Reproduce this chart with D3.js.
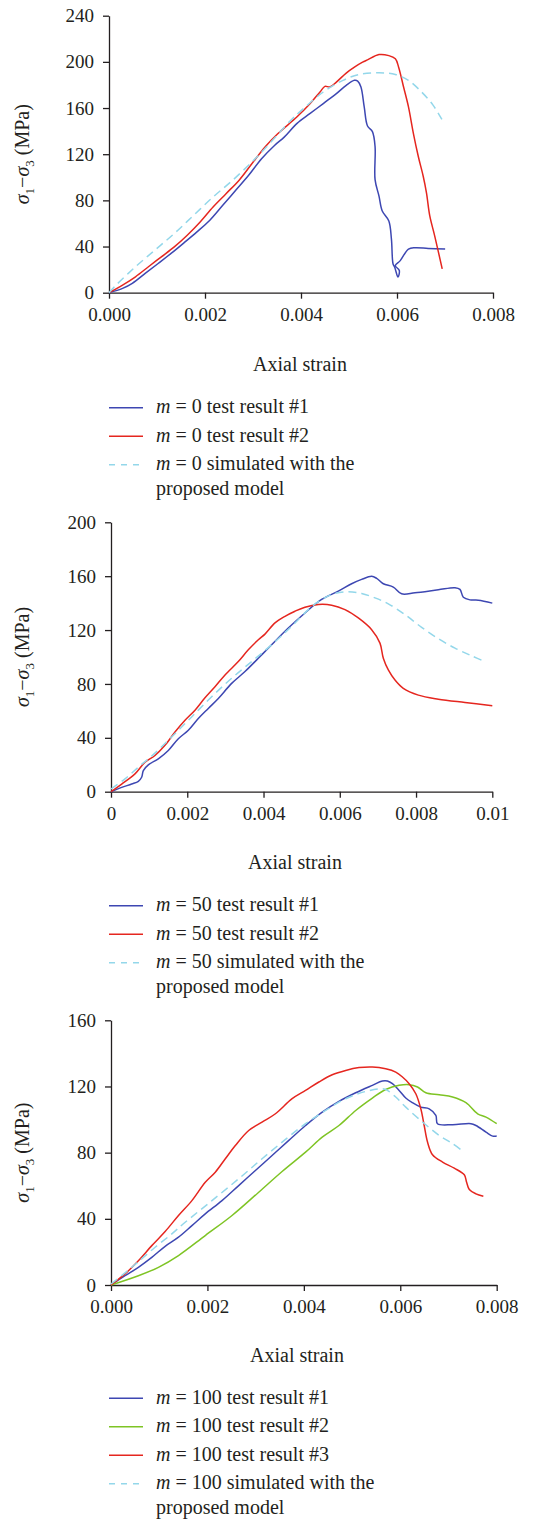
<!DOCTYPE html>
<html>
<head>
<meta charset="utf-8">
<script src="https://cdn.jsdelivr.net/npm/d3@7"></script>
<style>
body{margin:0;background:#fff}
text{font-family:"Liberation Serif","Times New Roman",serif;fill:#231f20}
</style>
</head>
<body>
<svg id="main_svg" width="534" height="1520"></svg>
<script>
// ---- m = 0 ----
let m0_test1 = [[0,0],[0.000283,3.7],[0.000485,8.1],[0.000754,16.7],[0.001024,25.3],[0.001293,34],[0.001562,43.2],
    [0.001832,52.7],[0.002101,62.8],[0.00237,75.7],[0.00264,88.7],[0.002909,101.7],[0.003178,116.1],[0.003448,127.6],
    [0.00365,134.8],[0.003918,146.7],[0.004191,155.3],[0.004464,163.9],[0.004737,172.5],[0.004942,179.7],[0.005113,184],
    [0.005181,183.4],[0.005249,178.2],[0.005317,161],[0.005386,144.4],[0.005488,139.5],[0.005543,126.6],[0.005543,98],
    [0.005625,83.7],[0.005693,70.8],[0.00583,62.2],[0.005884,46.4],[0.005918,24.9],[0.005952,22.1],[0.00602,13.5],
    [0.006048,19.2],[0.005966,23.5],[0.006068,27.8],[0.006239,37.8],[0.006375,39],[0.00665,38.4],[0.007003,37.8]]
let m0_test2 = [[0,0],[0.000283,6.6],[0.000552,13.8],[0.000822,22.5],[0.001091,31.1],[0.00136,39.7],[0.00163,49.8],
    [0.001899,61.3],[0.002168,74.3],[0.002438,85.8],[0.002707,97.3],[0.002976,111.7],[0.003246,126.1],[0.003515,137.7],
    [0.003918,152.4],[0.004191,163.9],[0.004396,173.9],[0.004498,178.8],[0.0046,178.2],[0.004737,182.5],[0.004942,190.3],
    [0.005113,195.4],[0.005283,199.7],[0.005386,201.7],[0.005625,206.3],[0.00583,205.4],[0.005966,202.6],[0.006034,195.4],
    [0.006137,178.2],[0.006239,161],[0.006341,138.1],[0.006444,118],[0.006546,100.9],[0.006614,86.5],[0.006683,66.5],
    [0.006785,49.3],[0.006942,20.6]]
let m0_sim = [[0,0],[0.000148,6.6],[0.000552,22.5],[0.000956,36.9],[0.00136,51.3],[0.001764,67.1],[0.002168,82.9],
    [0.002572,97.3],[0.002976,113.2],[0.003246,124.7],[0.003784,149.2],[0.004055,159.6],[0.004464,173.9],[0.004874,184],
    [0.005215,189.1],[0.005625,190.5],[0.005966,189.1],[0.006239,184],[0.006512,173.9],[0.006751,162.5],[0.006935,150.1]]

// ---- m = 50 ----
let m50_test1 = [[0,0],[0.00028,3.2],[0.000542,5.7],[0.000717,7.7],[0.000804,10.7],[0.000848,15.7],[0.000979,19.9],
    [0.001241,24.4],[0.001503,30.6],[0.001766,39.3],[0.002028,45.6],[0.00229,54.3],[0.002552,61.8],[0.002815,69.2],
    [0.003164,80.4],[0.003514,89.2],[0.003864,99.1],[0.004213,109.1],[0.00465,121.5],[0.005087,132.7],[0.005524,142.7],
    [0.005962,148.9],[0.006311,154.4],[0.006573,157.6],[0.006836,159.9],[0.006967,158.4],[0.007142,154.4],[0.007404,151.9],
    [0.007622,146.9],[0.007972,147.7],[0.008584,149.9],[0.009021,151.4],[0.009152,150.2],[0.00924,144.4],[0.009414,142.4],
    [0.009633,142.2],[0.01,140]]
let m50_test2 = [[0,0],[0.00028,5.7],[0.000629,13.2],[0.000892,21.9],[0.001154,26.9],[0.001416,34.4],[0.001678,44.3],
    [0.001941,53],[0.002203,60.5],[0.002465,69.7],[0.002727,77.9],[0.00299,86.7],[0.003339,96.6],[0.003601,105.3],
    [0.003864,112.8],[0.004038,117],[0.004301,125.3],[0.004563,130.2],[0.004825,134],[0.005087,137],[0.005437,139],
    [0.005787,138.5],[0.006136,135.2],[0.006486,129],[0.006836,120.3],[0.007054,110.3],[0.007142,99.1],[0.007273,90.4],
    [0.007448,82.9],[0.007666,76.7],[0.00806,71.7],[0.008584,68.7],[0.009283,66.2],[0.01,63.8]]
let m50_sim = [[0,2],[0.000367,9.5],[0.000717,18.2],[0.001066,26.4],[0.001591,40.6],[0.002115,55.5],[0.00264,70.5],
    [0.003164,84.2],[0.003689,96.6],[0.004213,109.1],[0.004738,122.8],[0.005175,135.2],[0.005524,142.7],[0.005874,147.2],
    [0.006224,148.4],[0.006573,147.2],[0.006923,143.9],[0.007273,139.5],[0.00771,131.5],[0.008147,122],[0.008584,113.6],
    [0.009021,106.6],[0.009458,100.9],[0.009808,96.6]]

// ---- m = 100 ----
let m100_test1 = [[0,0],[0.000291,5.6],[0.000568,10.7],[0.000846,16.7],[0.001123,23.4],[0.0014,28.9],[0.001678,35.9],
    [0.001955,43],[0.002302,51],[0.002648,60.1],[0.002995,69.2],[0.003341,78.3],[0.003688,87.4],[0.004035,96.4],
    [0.004381,104.5],[0.004728,111],[0.005075,116.2],[0.005421,120.7],[0.005629,123.3],[0.005733,123.3],[0.005837,121.7],
    [0.005976,117.6],[0.006114,113],[0.006253,110.2],[0.006426,107.5],[0.0066,106.5],[0.006738,102.5],[0.006773,97.5],
    [0.007085,96.9],[0.007466,97.5],[0.00757,96.4],[0.007778,92.4],[0.007917,90],[0.008,90]]
let m100_test2 = [[0,0],[0.000568,5.6],[0.000984,10.7],[0.0014,17.8],[0.001955,29.9],[0.00251,42],[0.003064,56.1],
    [0.003549,68.6],[0.004035,80.3],[0.004381,89.4],[0.004728,96.4],[0.005075,105.5],[0.005421,113],[0.005698,118.2],
    [0.005976,120.7],[0.006184,121.1],[0.006357,119.7],[0.00653,116.2],[0.006808,115],[0.007085,113.6],[0.007362,110.2],
    [0.007605,103.5],[0.007778,101.5],[0.008,97.5]]
let m100_test3 = [[0,0],[0.000291,6.7],[0.000568,14.7],[0.000846,23.8],[0.001123,32.3],[0.0014,42],[0.001678,51],
    [0.001955,62.1],[0.002163,68.2],[0.002371,76.3],[0.002579,84.3],[0.002856,93.4],[0.003133,98.5],[0.003411,103.5],
    [0.003757,112.6],[0.004035,117.6],[0.004312,122.7],[0.004589,127.1],[0.004867,129.7],[0.005144,131.4],[0.005421,131.8],
    [0.005698,130.7],[0.005906,128.7],[0.006045,125.7],[0.006184,121.7],[0.006322,115.6],[0.006426,106.5],[0.006496,96.4],
    [0.006565,86.4],[0.006669,78.7],[0.006877,74.3],[0.00712,70.6],[0.007328,66.6],[0.007376,62.1],[0.007432,57.7],
    [0.00757,55.1],[0.007723,53.7]]
let m100_sim = [[0,0.6],[0.000291,7.3],[0.000568,14.1],[0.000915,22.8],[0.001262,30.9],[0.001539,37.9],[0.002094,51],
    [0.002648,64.2],[0.003133,76.3],[0.003619,88],[0.004035,97.5],[0.004451,105.5],[0.004867,112.6],[0.005283,117],
    [0.005629,118.6],[0.005733,117.6],[0.005906,113.6],[0.006114,107.5],[0.006461,98.5],[0.006808,90.4],[0.007085,85.4],
    [0.007328,80.3]]

// ticks
let x_ticks_8 = [0,0.002,0.004,0.006,0.008]
let x_labels_8 = ["0.000","0.002","0.004","0.006","0.008"]
let x_ticks_10 = [0,0.002,0.004,0.006,0.008,0.01]
let x_labels_10 = ["0","0.002","0.004","0.006","0.008","0.01"]
let y_ticks_240 = [0,40,80,120,160,200,240]
let y_ticks_200 = [0,40,80,120,160,200]
let y_ticks_160 = [0,40,80,120,160]

let blue = "#3d47b2"
let red = "#e5261f"
let green = "#7ec424"
let cyan = "#93d7ea"

function draw_panel(p){
    let svg = d3.select("#main_svg")
    let x = d3.scaleLinear().domain(p.xdom).range([p.left, p.right])
    let y = d3.scaleLinear().domain(p.ydom).range([p.bottom, p.top])
    let g = svg.append("g")

    let xaxis = d3.axisBottom(x).tickValues(p.xticks)
        .tickFormat((d,i)=>p.xlabels[i])
        .tickSize(6).tickSizeOuter(0).tickPadding(9)
    let yaxis = d3.axisLeft(y).tickValues(p.yticks)
        .tickSize(6).tickSizeOuter(0).tickPadding(9)

    let gx = g.append("g").attr("transform","translate(0,"+p.bottom+")").call(xaxis)
    let gy = g.append("g").attr("transform","translate("+p.left+",0)").call(yaxis)
    for (let a of [gx, gy]) {
        a.attr("font-family", null).attr("font-size", 19)
        a.selectAll("path, line").attr("stroke","#231f20").attr("stroke-width",1.3)
        a.selectAll("text").attr("fill","#231f20")
    }

    // y title
    let yt = g.append("text")
        .attr("transform","translate(29,"+((p.top+p.bottom)/2)+") rotate(-90)")
        .attr("text-anchor","middle")
        .attr("font-size",20)
    yt.append("tspan").attr("font-style","italic").text("σ")
    yt.append("tspan").attr("font-size",13).attr("dy",5).text("1")
    yt.append("tspan").attr("dy",-5).text("−")
    yt.append("tspan").attr("font-style","italic").text("σ")
    yt.append("tspan").attr("font-size",13).attr("dy",5).text("3")
    yt.append("tspan").attr("dy",-5).text(" (MPa)")

    // x title
    g.append("text").attr("x",p.titlex).attr("y",p.titley)
        .attr("text-anchor","middle").attr("font-size",20).text("Axial strain")

    let line = d3.line().x(d=>x(d[0])).y(d=>y(d[1])).curve(d3.curveCatmullRom.alpha(0.5))
    p.series.forEach(s=>{
        g.append("path").datum(s.data)
            .attr("d", line)
            .attr("fill","none")
            .attr("stroke", s.color)
            .attr("stroke-width", 1.5)
            .attr("stroke-dasharray", s.dash ? "8,5" : null)
    })

    // legend
    let by = p.legy
    p.series.forEach(s=>{
        g.append("line")
            .attr("x1",109).attr("x2",143)
            .attr("y1",by-5.5).attr("y2",by-5.5)
            .attr("stroke", s.color).attr("stroke-width",1.5)
            .attr("stroke-dasharray", s.dash ? "6,6" : null)
        let t = g.append("text").attr("x",156).attr("y",by).attr("font-size",20)
        t.append("tspan").attr("font-style","italic").text("m")
        t.append("tspan").text(s.label[0])
        if (s.label.length > 1) {
            g.append("text").attr("x",156).attr("y",by+24.5).attr("font-size",20).text(s.label[1])
        }
        by += 28.5
    })
}

draw_panel({
    left:109, right:493, top:15.7, bottom:292.7,
    xdom:[0,0.008], ydom:[0,240], xticks:x_ticks_8, xlabels:x_labels_8, yticks:y_ticks_240,
    titlex:300, titley:370.7, legy:413.3,
    series:[
        {data:m0_test1, color:blue, label:[" = 0 test result #1"]},
        {data:m0_test2, color:red, label:[" = 0 test result #2"]},
        {data:m0_sim, color:cyan, dash:true, label:[" = 0 simulated with the","proposed model"]}
    ]
})
draw_panel({
    left:111, right:492.3, top:522.3, bottom:791.7,
    xdom:[0,0.01], ydom:[0,200], xticks:x_ticks_10, xlabels:x_labels_10, yticks:y_ticks_200,
    titlex:295, titley:869, legy:911.3,
    series:[
        {data:m50_test1, color:blue, label:[" = 50 test result #1"]},
        {data:m50_test2, color:red, label:[" = 50 test result #2"]},
        {data:m50_sim, color:cyan, dash:true, label:[" = 50 simulated with the","proposed model"]}
    ]
})
draw_panel({
    left:111, right:496.7, top:1020.3, bottom:1285,
    xdom:[0,0.008], ydom:[0,160], xticks:x_ticks_8, xlabels:x_labels_8, yticks:y_ticks_160,
    titlex:297, titley:1361.7, legy:1403.8,
    series:[
        {data:m100_test1, color:blue, label:[" = 100 test result #1"]},
        {data:m100_test2, color:green, label:[" = 100 test result #2"]},
        {data:m100_test3, color:red, label:[" = 100 test result #3"]},
        {data:m100_sim, color:cyan, dash:true, label:[" = 100 simulated with the","proposed model"]}
    ]
})
</script>
</body>
</html>
